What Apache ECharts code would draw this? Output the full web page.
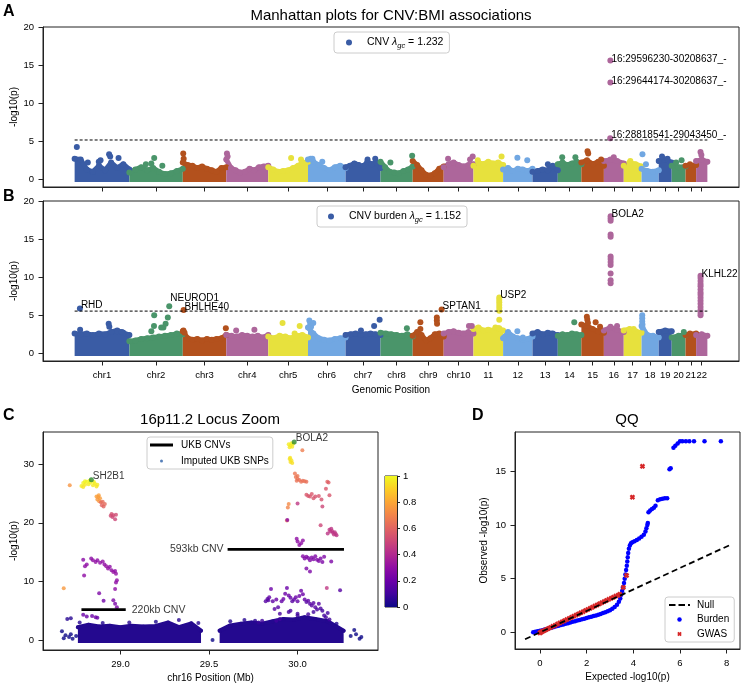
<!DOCTYPE html>
<html><head><meta charset="utf-8">
<script src="https://cdn.jsdelivr.net/npm/echarts@6/dist/echarts.min.js"></script>
<style>html,body{margin:0;padding:0;background:#fff}#c{width:744px;height:687px}</style>
</head><body><div id="c"></div><script>
const FONT = '"Liberation Sans", Arial, Helvetica, sans-serif';

// ---------- Manhattan data ----------
const chrLen = [249.3,243.2,198.0,191.2,180.9,171.1,159.1,146.4,141.2,135.5,135.0,133.9,115.2,107.3,102.5,90.4,81.2,78.1,59.1,63.0,48.1,51.3];
const chrTickLabels = ['chr1','chr2','chr3','chr4','chr5','chr6','chr7','chr8','chr9','chr10','11','12','13','14','15','16','17','18','19','20','21','22'];
const chrPalette = ['#3a5ca5','#4a956a','#b3511d','#ad669b','#e7e13d','#71a7e2'];
const yTicksAB = [0,5,10,15,20];

// Panel A: top of the dense mass per chromosome, evenly across the chromosome
const envA = [
 [2.7,2.6,1.3,1.0,1.8,1.2,2.2,1.5,2.0,1.3],
 [0.9,1.3,1.6,1.2,1.5,1.0,0.7,0.8,1.1,1.4],
 [2.2,1.9,1.8,1.5,1.7,1.4,1.2,1.0,1.5,1.6],
 [2.6,1.5,1.2,0.9,1.0,1.4,1.2,1.6,1.7,1.8],
 [1.6,1.3,1.0,1.1,1.2,1.5,1.8,2.2,2.3],
 [2.6,2.3,1.9,1.5,1.2,1.6,1.8,1.5],
 [1.6,1.8,2.1,1.9,1.7,2.3,2.0,2.2,1.5],
 [2.3,1.6,1.0,0.9,0.8,1.1,1.3,1.7],
 [2.4,1.9,1.2,0.6,0.5,0.8,1.4,1.7],
 [1.6,2.0,2.2,1.9,1.7,1.9,2.0],
 [1.8,2.2,2.0,2.3,2.1,2.2,1.9],
 [1.3,1.5,1.1,1.4,1.3,1.1,1.4],
 [1.0,1.1,1.3,1.2,1.8,1.2],
 [2.0,2.2,1.9,2.1,2.3,2.0],
 [2.2,2.5,2.0,2.3,1.8],
 [2.4,2.6,2.4,2.1],
 [1.8,2.2,2.0,1.7],
 [1.4,1.1,1.0,1.2],
 [2.4,2.6,2.2],
 [1.8,1.6,1.7],
 [1.8,1.9],
 [2.4,2.6,2.3]
];
// [chromosome, position (Mb), -log10(p)]
const outA = [
 [1,10,4.25],[1,60,2.2],[1,110,2.3],[1,118,2.5],[1,157,3.3],[1,162,3.0],[1,200,2.8],
 [2,75,2.0],[2,100,2.1],[2,113,2.8],[2,150,1.8],
 [3,2,3.4],[3,4,2.7],
 [4,3,3.4],[4,6,3.0],
 [5,104,2.8],[5,149,2.6],
 [6,12,2.7],[6,20,2.7],[6,65,2.3],
 [7,100,2.6],[7,135,2.7],
 [8,45,2.2],[8,144,3.1],
 [10,20,2.7],[10,120,2.6],[10,132,3.0],
 [11,20,2.5],[11,128,3.0],
 [12,65,2.85],[12,110,2.5],
 [13,70,2.0],
 [14,20,2.9],[14,80,2.9],
 [15,28,3.7],[15,31,3.4],[15,90,2.6],
 [16,45,2.9],
 [17,30,2.4],
 [18,4,3.3],[18,20,2.0],
 [19,15,3.0],[19,40,2.7],
 [20,20,2.2],[20,45,2.5],
 [21,20,2.0],
 [22,20,3.6],[22,24,3.2]
];
const labelA = [
 [16,29.6,15.6,'16:29596230-30208637_-'],
 [16,29.64,12.7,'16:29644174-30208637_-'],
 [16,28.8,5.4,'16:28818541-29043450_-']
];
const threshA = 5.17;

// Panel B
const envB = [
 [2.6,2.5,2.6,2.4,2.6,2.5,2.8,3.0,2.7,2.4],
 [1.6,1.7,1.9,2.0,2.1,2.2,2.3,2.4,2.6,2.5],
 [2.9,2.0,1.8,1.9,1.7,1.9,1.8,1.9,2.0,2.4],
 [2.4,2.3,2.2,2.4,2.3,2.2,2.3,2.1,2.4],
 [2.2,2.0,2.3,2.2,2.0,2.3,2.4,2.1],
 [3.4,2.6,2.0,1.8,1.7,1.9,2.0,2.1],
 [2.4,2.5,2.6,2.4,2.5,2.6,2.5,2.4],
 [2.7,2.6,2.5,2.4,2.3,2.5,2.2],
 [2.3,2.8,2.4,1.7,2.0,2.5,2.6,2.2],
 [2.6,2.8,2.9,2.7,2.6,2.8,2.6],
 [3.2,3.4,3.0,3.1,3.0,3.3,3.0],
 [2.0,2.8,2.2,2.0,1.8,1.9,2.2],
 [2.6,2.8,2.5,2.7,2.6,2.4],
 [2.3,2.5,2.4,2.6,2.5,2.4],
 [3.8,3.6,3.2,2.9,2.7],
 [3.0,3.4,3.1,2.8],
 [3.0,3.2,2.9,2.7],
 [3.6,2.4,2.3,2.1],
 [2.8,3.0,2.9],
 [2.1,2.3,2.4],
 [2.4,2.6],
 [2.4,2.5,2.3]
];
const outB = [
 [1,25,3.1],[1,155,3.9],[1,158,3.5],[1,195,2.9],[1,215,2.8],
 [2,100,2.9],[2,112,3.6],[2,113,5.0],[2,145,3.4],[2,155,3.4],[2,165,3.9],[2,175,4.7],
 [3,3,3.0],[3,8,2.7],[3,196,3.3],
 [4,45,3.0],[4,128,3.1],
 [5,65,4.0],[5,120,2.6],[5,143,3.6],
 [6,6,4.3],[6,10,3.9],[6,14,3.5],[6,24,4.0],
 [7,70,3.0],[7,130,3.6],[7,155,4.4],
 [8,120,3.3],
 [9,35,4.1],[9,35,3.2],[9,110,4.7],[9,110,4.3],[9,111,3.9],
 [10,115,3.6],[10,128,3.6],
 [11,100,3.4],[11,117.6,7.05],[11,117.6,6.7],[11,117.6,6.35],[11,117.6,6.0],[11,117.6,5.6],[11,117.6,4.4],[11,117.6,3.3],
 [12,65,2.9],[12,90,2.1],
 [14,75,4.1],
 [15,25,4.8],[15,27,4.4],[15,30,4.0],[15,65,4.1],[15,85,3.5],
 [16,30.6,17.7],[16,30.6,17.4],[16,30.6,15.6],[16,30.6,15.3],[16,30.6,12.7],[16,30.6,12.4],[16,30.6,12.0],[16,30.6,11.6],[16,30.6,10.5],[16,30.6,9.6],[16,30.6,9.2],[16,30,3.5],[16,60,3.6],
 [17,45,3.2],
 [18,3,5.0],[18,3,4.6],[18,3,4.2],[18,4,3.8],[18,4,3.4],
 [20,55,2.8],
 [21,20,2.6],
 [22,20.2,9.9],[22,20.2,9.5],[22,20.2,9.1],[22,20.2,8.8],[22,20.2,8.4],[22,20.2,8.0],[22,20.2,7.7],[22,20.2,7.3],[22,20.2,6.9],[22,20.2,6.5],[22,20.2,6.1],[22,20.2,5.7],[22,20.2,5.3],[22,20.2,5.0]
];
const labelB = [
 [1,24,5.9,'RHD'],
 [2,181.5,6.2,'NEUROD1'],
 [3,3.7,5.68,'BHLHE40'],
 [9,131.7,5.77,'SPTAN1'],
 [11,117.6,7.35,'USP2'],
 [16,30.6,18.0,'BOLA2'],
 [22,20.2,10.2,'KLHL22']
];
const threshB = 5.55;

// ---------- Panel C: 16p11.2 locus ----------
const bandLeft = [[28.76,2.2],[28.82,2.6],[28.88,2.3],[28.94,2.45],[29.0,2.2],[29.06,2.45],[29.13,2.3],[29.2,2.4],[29.27,3.0],[29.33,2.2],[29.4,2.85],[29.455,1.6]];
const bandRight = [[29.56,1.6],[29.62,2.5],[29.68,2.8],[29.74,3.0],[29.8,2.8],[29.86,3.2],[29.92,3.6],[29.98,3.5],[30.04,3.9],[30.1,3.6],[30.17,3.2],[30.26,1.6]];
// [position Mb, -log10(p), r2]
const snps = [
 [28.67,1.5,0],[28.68,0.3,0],[28.69,0.8,0],[28.71,0.5,0],[28.72,1.0,0],[28.73,0.2,0],[28.75,0.7,0],[28.70,3.6,0.05],[28.72,3.7,0.05],
 [29.52,0.0,0],[30.30,0.7,0],[30.32,1.7,0],[30.33,1.0,0],[30.35,0.2,0],[30.36,0.5,0],
 [28.77,3.0,0.05],[28.9,2.9,0.04],[29.05,3.0,0.05],[29.2,3.1,0.03],[29.33,3.4,0.05],[29.44,2.9,0.05],[29.62,3.2,0.04],[29.7,3.4,0.05],[29.76,3.3,0.06],[30.0,4.2,0.08],[30.22,2.8,0.04],
 [28.714,26.4,0.75],[28.68,8.85,0.76],
 [28.78,26.3,0.97],[28.79,26.8,0.98],[28.80,26.5,0.96],[28.81,27.0,0.99],[28.82,26.6,0.97],[28.83,26.9,0.98],[28.845,26.4,0.96],[28.855,26.7,0.97],[28.865,26.2,0.95],[28.87,26.5,0.96],[28.79,26.1,0.95],[28.80,27.1,0.99],[28.825,27.2,0.99],[28.85,27.0,0.98],
 [28.865,24.5,0.78],[28.87,24.0,0.76],[28.875,24.4,0.77],[28.88,23.7,0.75],[28.885,24.2,0.77],[28.878,24.7,0.78],
 [28.89,23.5,0.62],[28.895,23.0,0.6],[28.9,23.6,0.63],[28.905,22.8,0.6],[28.912,23.2,0.62],
 [28.945,21.2,0.52],[28.95,21.5,0.53],[28.955,21.0,0.5],[28.96,21.3,0.52],[28.97,20.6,0.5],[28.975,21.4,0.52],
 [28.79,13.7,0.28],[28.8,12.6,0.3],[28.795,11.0,0.3],[28.81,12.9,0.3],[28.835,13.9,0.29],[28.845,13.6,0.3],[28.86,13.3,0.31],[28.87,13.6,0.29],[28.885,13.2,0.3],[28.9,13.4,0.31],[28.91,12.9,0.3],[28.92,12.6,0.32],[28.93,12.2,0.31],[28.94,12.5,0.3],[28.95,11.9,0.3],[28.96,11.6,0.32],[28.97,11.8,0.3],[28.975,11.3,0.31],[28.98,10.2,0.3],[28.975,9.8,0.3],[28.97,8.7,0.3],[28.88,8.0,0.25],[28.905,6.7,0.22],[28.96,6.8,0.25],[28.97,6.2,0.24],[28.98,5.6,0.25],
 [28.79,4.3,0.2],[28.81,4.0,0.2],[28.84,4.1,0.2],[28.86,3.9,0.22],[28.87,3.8,0.2],
 [29.95,33.4,0.97],[29.955,32.9,0.96],[29.96,33.2,0.97],[29.965,33.6,0.98],[29.97,33.0,0.96],[29.975,33.5,0.97],[29.955,30.9,0.95],[29.96,30.4,0.94],[29.965,30.7,0.95],[29.97,30.2,0.94],[29.958,31.1,0.95],
 [30.027,32.4,0.68],
 [29.985,28.4,0.66],[29.99,27.8,0.66],[29.995,27.2,0.65],[30.0,27.5,0.65],[30.01,27.3,0.64],[30.02,27.0,0.65],[30.03,27.2,0.64],[30.04,27.1,0.65],[30.05,27.0,0.64],[30.0,28.0,0.66],
 [29.95,23.2,0.72],[29.945,22.6,0.7],[29.94,20.4,0.7],[29.942,20.5,0.3],
 [30.05,24.8,0.56],[30.06,24.6,0.55],[30.07,24.5,0.55],[30.08,24.9,0.56],[30.09,24.2,0.55],[30.1,24.5,0.54],[30.12,24.6,0.55],[30.135,24.0,0.54],
 [30.168,27.0,0.6],[30.175,26.9,0.58],[30.16,25.8,0.56],[30.18,24.7,0.55],
 [30.13,19.6,0.5],[30.14,22.8,0.5],[30.0,23.3,0.45],
 [30.17,18.2,0.44],[30.18,18.8,0.45],[30.185,18.5,0.45],[30.19,19.0,0.44],[30.195,18.6,0.45],[30.2,18.3,0.44],[30.205,18.0,0.45],[30.21,18.4,0.44],[30.215,18.1,0.45],[30.22,17.9,0.44],
 [29.995,17.3,0.3],[30.0,16.8,0.3],[30.01,16.2,0.3],[30.02,16.5,0.3],[30.03,17.0,0.3],
 [30.03,14.3,0.27],[30.04,13.9,0.26],[30.05,14.2,0.27],[30.06,14.0,0.25],[30.07,13.6,0.26],[30.08,14.1,0.26],[30.09,13.8,0.25],[30.1,14.3,0.26],[30.11,13.7,0.25],[30.12,13.5,0.26],[30.13,13.9,0.25],[30.14,13.3,0.25],[30.15,14.2,0.26],[30.19,13.4,0.25],[30.07,11.7,0.25],[30.05,12.2,0.25],
 [30.165,8.9,0.45],
 [29.85,8.7,0.2],[29.82,6.6,0.15],[29.83,7.0,0.15],[29.835,6.8,0.15],[29.84,7.3,0.18],[29.86,6.6,0.17],[29.87,5.3,0.15],[29.88,6.9,0.2],[29.89,5.6,0.15],[29.9,4.5,0.12],[29.91,6.6,0.18],[29.92,7.0,0.2],[29.93,7.9,0.2],[29.94,8.9,0.2],[29.95,7.6,0.2],[29.96,7.2,0.18],[29.97,6.6,0.15],[29.98,6.9,0.17],[29.99,7.3,0.2],[30.0,6.6,0.18],[30.01,7.5,0.2],[30.02,8.4,0.2],[30.03,7.8,0.2],[30.04,6.9,0.18],[30.05,6.5,0.15],[30.06,6.7,0.17],[30.07,6.2,0.15],[30.08,5.9,0.15],[30.09,6.3,0.15],[30.1,5.6,0.15],[30.11,5.2,0.12],[30.12,6.2,0.15],[30.13,5.4,0.12],[30.14,5.0,0.1],[30.15,4.2,0.1],[30.16,3.9,0.1],[30.17,4.6,0.1],[30.18,3.5,0.1],[29.9,3.6,0.1],[29.88,3.3,0.1],[29.96,5.0,0.12],[30.0,4.5,0.1],[30.24,8.5,0.15],[29.8,3.3,0.1],[29.78,3.0,0.08],[29.95,4.8,0.12],[30.06,4.4,0.1],[30.09,4.8,0.1]
];
const leadSnps = [[28.836,27.35,'SH2B1'],[29.981,33.8,'BOLA2']];
const cnvSegs = [[28.78,29.03,5.19,'220kb CNV'],[29.605,30.262,15.47,'593kb CNV']];
const xTicksC = [29.0,29.5,30.0];
const yTicksC = [0,10,20,30];
const cbarTicks = [0,0.2,0.4,0.6,0.8,1];
const plasma = ['#0d0887','#41049d','#6a00a8','#8f0da4','#b12a90','#cc4778','#e16462','#f2844b','#fca636','#fcce25','#f0f921'];

// ---------- Panel D: QQ ----------
const burden = [[-0.29,0.02],[-0.2,0.06],[-0.1,0.1],[0,0.15],[0.1,0.2],[0.2,0.26],[0.3,0.32],[0.4,0.38],[0.5,0.44],[0.6,0.5],[0.7,0.56],[0.8,0.62],[0.9,0.68],[1.0,0.74],[1.1,0.8],[1.2,0.86],[1.3,0.92],[1.4,0.98],[1.5,1.04],[1.6,1.1],[1.7,1.16],[1.8,1.22],[1.9,1.28],[2.0,1.34],[2.1,1.4],[2.2,1.46],[2.3,1.52],[2.4,1.58],[2.5,1.65],[2.6,1.72],[2.7,1.8],[2.8,1.88],[2.9,1.97],[3.0,2.07],[3.1,2.2],[3.2,2.36],[3.3,2.58],[3.38,2.85],[3.44,3.15],[3.48,3.5],[3.52,3.85],[3.56,4.2],[3.6,4.6],[3.63,5.0],[3.66,5.4],[3.69,5.8],[3.72,6.2],[3.74,6.6],[3.76,7.0],[3.78,7.4],[3.81,7.8],[3.85,8.1],[3.9,8.3],[3.96,8.4],[4.05,8.5],[4.15,8.6],[4.25,8.75],[4.35,8.9],[4.45,9.1],[4.52,9.4],[4.56,9.7],[4.6,10.0],[4.62,10.2],[4.65,11.2],[4.72,11.35],[4.8,11.5],[4.88,11.6],[4.95,11.8],[5.05,12.3],[5.15,12.4],[5.25,12.45],[5.35,12.5],[5.45,12.5],[5.55,15.2],[5.6,15.3],[5.72,17.2],[5.8,17.4],[5.9,17.6],[6.0,17.8],[6.1,17.8],[6.25,17.8],[6.4,17.8],[6.6,17.8],[7.05,17.8],[7.75,17.8]];
const gwas = [[0.0,-0.05],[0.04,0.02],[0.08,0.06],[0.13,0.12],[0.2,0.18],[0.28,0.27],[0.36,0.36],[0.45,0.45],[0.55,0.56],[0.65,0.66],[0.75,0.77],[0.85,0.88],[0.95,0.98],[1.05,1.09],[1.15,1.19],[1.25,1.3],[1.35,1.4],[1.45,1.51],[1.55,1.61],[1.65,1.72],[1.75,1.82],[1.85,1.93],[1.95,2.03],[2.05,2.14],[2.15,2.24],[2.25,2.35],[2.35,2.45],[2.45,2.56],[2.55,2.66],[2.65,2.77],[2.75,2.87],[2.85,2.98],[2.95,3.08],[3.05,3.18],[3.15,3.28],[3.25,3.38],[3.35,3.47],[3.42,3.55],[3.57,4.19],[3.71,5.31],[3.96,12.6],[4.39,15.47]];
const nullLine = [[-0.64,-0.64],[8.14,8.14]];
const xTicksD = [0,2,4,6,8];
const yTicksD = [0,5,10,15];

// ---------- build ----------
const chrStart = []; let acc = 0;
chrLen.forEach(l => { chrStart.push(acc); acc += l; });
const genomeLen = acc;
const chrCenter = chrStart.map((s,i) => s + chrLen[i]/2);
const AX = '#222';
const tickTxt = {color:'#000', fontSize:9.5, fontFamily:FONT};
const nameTxt = {color:'#000', fontSize:10, fontFamily:FONT};
const legTxt = {color:'#000', fontSize:10, fontFamily:FONT};

function valAxis(gi, min, max, ticks, extra) {
  return Object.assign({
    type:'value', gridIndex:gi, min, max, nameMoveOverlap:false,
    axisLine:{show:true, onZero:false, lineStyle:{color:AX, width:1}},
    axisTick:{show:true, length:4.5, customValues:ticks, lineStyle:{color:AX, width:1}},
    axisLabel:Object.assign({customValues:ticks, margin:9, showMaxLabel:true, showMinLabel:true, hideOverlap:false}, tickTxt),
    splitLine:{show:false},
    nameTextStyle:nameTxt
  }, extra || {});
}

const series = [];
function addManhattan(env, outs, labels, labelPos, thresh, gi, name) {
  const dots = [];
  env.forEach((h,i) => {
    const col = chrPalette[i % 6];
    const pts = h.map((v,k) => [chrStart[i] + chrLen[i]*k/(h.length-1), v]);
    series.push({type:'line', xAxisIndex:gi, yAxisIndex:gi, data:pts, symbol:'none', silent:true,
      lineStyle:{color:col, width:5, cap:'round', join:'round'},
      areaStyle:{color:col, opacity:1, origin:-0.35}, z:2});
    pts.forEach(p => dots.push({value:p, itemStyle:{color:col}}));
  });
  outs.forEach(([c,p,v]) => dots.push({value:[chrStart[c-1]+p, v], itemStyle:{color:chrPalette[(c-1)%6]}}));
  labels.forEach(([c,p,v,t],j) => dots.push({value:[chrStart[c-1]+p, v], itemStyle:{color:chrPalette[(c-1)%6]},
    label:{show:true, formatter:t, position:labelPos[j], align:'left', verticalAlign:'middle', color:'#000', fontSize:10, fontFamily:FONT}}));
  series.push({type:'scatter', name, xAxisIndex:gi, yAxisIndex:gi, data:dots, symbolSize:6,
    itemStyle:{color:chrPalette[0], opacity:1}, z:3, labelLayout:{hideOverlap:false}});
  series.push({type:'line', xAxisIndex:gi, yAxisIndex:gi, data:[[0,thresh],[genomeLen,thresh]], symbol:'none',
    silent:true, lineStyle:{color:'#000', width:1, type:[3,2]}, z:4});
}
addManhattan(envA, outA, labelA, [[4,2],[4,2],[4,0.5]], threshA, 0, 'CNV');
addManhattan(envB, outB, labelB, [[4,0],[4,-5],[4,0],[4,0],[4,1.3],[4,1.5],[4,2]], threshB, 1, 'CNV burden');

// Panel C
const bandCol = '#24098f';
[bandLeft, bandRight].forEach(b => {
  series.push({type:'line', xAxisIndex:2, yAxisIndex:2, data:b, symbol:'none', silent:true,
    lineStyle:{color:bandCol, width:4, cap:'round', join:'round'}, areaStyle:{color:bandCol, opacity:1, origin:-0.5}, z:2});
  series.push({type:'scatter', xAxisIndex:2, yAxisIndex:2, data:b, symbolSize:4, itemStyle:{color:bandCol}, z:2, silent:true});
});
const snpIdx = series.length;
series.push({type:'scatter', name:'_snps', xAxisIndex:2, yAxisIndex:2, data:snps, symbolSize:4, z:3, silent:true});
series.push({type:'scatter', xAxisIndex:2, yAxisIndex:2, z:5, symbolSize:5, itemStyle:{color:'#2d8a2d'},
  data:leadSnps.map(([p,v,t]) => ({value:[p,v], label:{show:true, formatter:t, position:[4,-1.1], align:'left', verticalAlign:'middle', color:'#000', fontSize:10, fontFamily:FONT}}))});
cnvSegs.forEach(([a,b,v]) => series.push({type:'line', name:'UKB CNVs', xAxisIndex:2, yAxisIndex:2,
  data:[[a,v],[b,v]], symbol:'none', lineStyle:{color:'#000', width:2.7}, itemStyle:{color:'#000'}, z:6}));
series.push({type:'scatter', xAxisIndex:2, yAxisIndex:2, symbolSize:0, z:6, silent:true,
  data:cnvSegs.map(([a,b,v,t],j) => ({value:j===0?[b,v]:[a,v],
    label:{show:true, formatter:t, position:j===0?'right':'left', distance:j===0?6:4, color:'#000', fontSize:10.5, fontFamily:FONT}}))});
series.push({type:'scatter', name:'Imputed UKB SNPs', xAxisIndex:2, yAxisIndex:2, data:[], itemStyle:{color:'#2c5fa8'}});

// colorbar
series.push({type:'bar', xAxisIndex:3, yAxisIndex:3, data:[1], barWidth:'100%', silent:true,
  itemStyle:{color:new echarts.graphic.LinearGradient(0,1,0,0, plasma.map((c,i)=>({offset:i/(plasma.length-1), color:c})))}});

// Panel D
series.push({type:'line', name:'Null', xAxisIndex:4, yAxisIndex:4, data:nullLine, symbol:'none',
  lineStyle:{color:'#000', width:1.8, type:[6,3.5]}, itemStyle:{color:'#000'}, z:5});
series.push({type:'scatter', name:'Burden', xAxisIndex:4, yAxisIndex:4, data:burden, symbolSize:4.5, itemStyle:{color:'#0000ff', opacity:1}, z:3});
series.push({type:'scatter', name:'GWAS', xAxisIndex:4, yAxisIndex:4, data:gwas, symbolSize:5.5,
  symbol:'path://M0,3L3,0L5,2L7,0L10,3L8,5L10,7L7,10L5,8L3,10L0,7L2,5Z', itemStyle:{color:'#d62728', opacity:1}, z:4});

const richLeg = {
  p:{width:10, fontSize:10.5},
  n:{fontSize:10.5, fontFamily:FONT, color:'#000', lineHeight:14},
  l:{fontSize:10.5, fontFamily:FONT, color:'#000', fontStyle:'italic', lineHeight:14},
  s:{fontSize:7.5, fontFamily:FONT, color:'#000', fontStyle:'italic', lineHeight:7, padding:[7,0,0,0]}
};
const legBox = {backgroundColor:'#fff', borderColor:'#cccccc', borderWidth:1, borderRadius:3};
const dashIcon = 'path://M0,0h6.5v2h-6.5z M9.5,0h6.5v2h-6.5z M19,0h2v2h-2z';

const grids = [
  {left:43, top:27, width:696, height:160},
  {left:43, top:201, width:696, height:160},
  {left:43, top:432, width:335, height:218},
  {left:385, top:476, width:12, height:131},
  {left:515, top:432, width:225, height:217}
].map(g => Object.assign({show:true, borderColor:AX, borderWidth:1, containLabel:false, outerBoundsMode:'none'}, g));

const option = {
  animation:false,
  textStyle:{fontFamily:FONT},
  grid:grids,
  xAxis:[
    valAxis(0, -144, 3025, chrCenter, {axisLabel:{show:false}}),
    valAxis(1, -144, 3025, chrCenter, {name:'Genomic Position', nameLocation:'middle', nameGap:24,
      axisLabel:Object.assign({customValues:chrCenter, margin:9, showMaxLabel:true, showMinLabel:true, hideOverlap:false,
        formatter:v => { let b=0; chrCenter.forEach((c,i)=>{ if (Math.abs(c-v) < Math.abs(chrCenter[b]-v)) b=i; }); return chrTickLabels[b]; }}, tickTxt)}),
    valAxis(2, 28.563, 30.454, xTicksC, {name:'chr16 Position (Mb)', nameLocation:'middle', nameGap:23,
      axisLabel:Object.assign({customValues:xTicksC, margin:9, formatter:v=>v.toFixed(1)}, tickTxt)}),
    {type:'category', gridIndex:3, data:[''], show:false},
    valAxis(4, -1.07, 8.57, xTicksD, {name:'Expected -log10(p)', nameLocation:'middle', nameGap:23.5})
  ],
  yAxis:[
    valAxis(0, -1, 20, yTicksAB, {name:'-log10(p)', nameLocation:'middle', nameGap:24, nameRotate:90}),
    valAxis(1, -1, 20, yTicksAB, {name:'-log10(p)', nameLocation:'middle', nameGap:24, nameRotate:90}),
    valAxis(2, -1.7, 35.5, yTicksC, {name:'-log10(p)', nameLocation:'middle', nameGap:24, nameRotate:90}),
    valAxis(3, 0, 1, cbarTicks, {position:'right', axisTick:{show:true, length:3, customValues:cbarTicks, lineStyle:{color:AX}},
      axisLabel:Object.assign({customValues:cbarTicks, margin:6, showMaxLabel:true, showMinLabel:true, formatter:v => (v===0||v===1) ? String(v) : v.toFixed(1)}, tickTxt)}),
    valAxis(4, -1.55, 18.67, yTicksD, {name:'Observed -log10(p)', nameLocation:'middle', nameGap:26, nameRotate:90})
  ],
  visualMap:[{type:'continuous', show:false, min:0, max:1, dimension:2, seriesIndex:snpIdx, inRange:{color:plasma}}],
  legend:[
    Object.assign({left:334, top:32, data:['CNV'], icon:'circle', itemWidth:6, itemHeight:6, itemGap:4, padding:[3,6,3,12],
      formatter:()=> '{p|}{n|CNV }{l|λ}{s|gc}{n| = 1.232}', textStyle:{rich:richLeg}}, legBox),
    Object.assign({left:317, top:206, data:['CNV burden'], icon:'circle', itemWidth:6, itemHeight:6, itemGap:4, padding:[3,6,3,11],
      formatter:()=> '{p|}{n|CNV burden }{l|λ}{s|gc}{n| = 1.152}', textStyle:{rich:richLeg}}, legBox),
    Object.assign({left:147, top:437, orient:'vertical', data:[{name:'UKB CNVs', icon:'rect'}, {name:'Imputed UKB SNPs', icon:'circle'}],
      itemWidth:23, itemHeight:3, itemGap:6, padding:[3,4,3,3], formatter:n => '{p|}' + n}, legBox),
    Object.assign({left:665, top:597, orient:'vertical', data:[{name:'Null', icon:dashIcon}, {name:'Burden', icon:'circle'}, 'GWAS'],
      itemWidth:21, itemHeight:4.5, itemGap:4.5, padding:[3,5,3,4], formatter:n => '{q|}' + n}, legBox)
  ],
  graphic:[
    {type:'text', x:391, y:15.5, style:{text:'Manhattan plots for CNV:BMI associations', fontSize:15, fontFamily:FONT, fill:'#000', align:'center', verticalAlign:'middle'}},
    {type:'text', x:210, y:420, style:{text:'16p11.2 Locus Zoom', fontSize:15, fontFamily:FONT, fill:'#000', align:'center', verticalAlign:'middle'}},
    {type:'text', x:627, y:420, style:{text:'QQ', fontSize:15, fontFamily:FONT, fill:'#000', align:'center', verticalAlign:'middle'}},
    {type:'text', x:3, y:12, style:{text:'A', fontSize:16, fontWeight:'bold', fontFamily:FONT, fill:'#000', verticalAlign:'middle'}},
    {type:'text', x:3, y:197, style:{text:'B', fontSize:16, fontWeight:'bold', fontFamily:FONT, fill:'#000', verticalAlign:'middle'}},
    {type:'text', x:3, y:416, style:{text:'C', fontSize:16, fontWeight:'bold', fontFamily:FONT, fill:'#000', verticalAlign:'middle'}},
    {type:'text', x:472, y:416, style:{text:'D', fontSize:16, fontWeight:'bold', fontFamily:FONT, fill:'#000', verticalAlign:'middle'}}
  ],
  series
};
option.legend[2].textStyle = Object.assign({}, legTxt, {rich:{p:{width:3}}});
option.legend[3].textStyle = Object.assign({}, legTxt, {rich:{q:{width:2}}});
const chart = echarts.init(document.getElementById('c'), null, {renderer:'canvas'});
chart.setOption(option);
</script></body></html>
